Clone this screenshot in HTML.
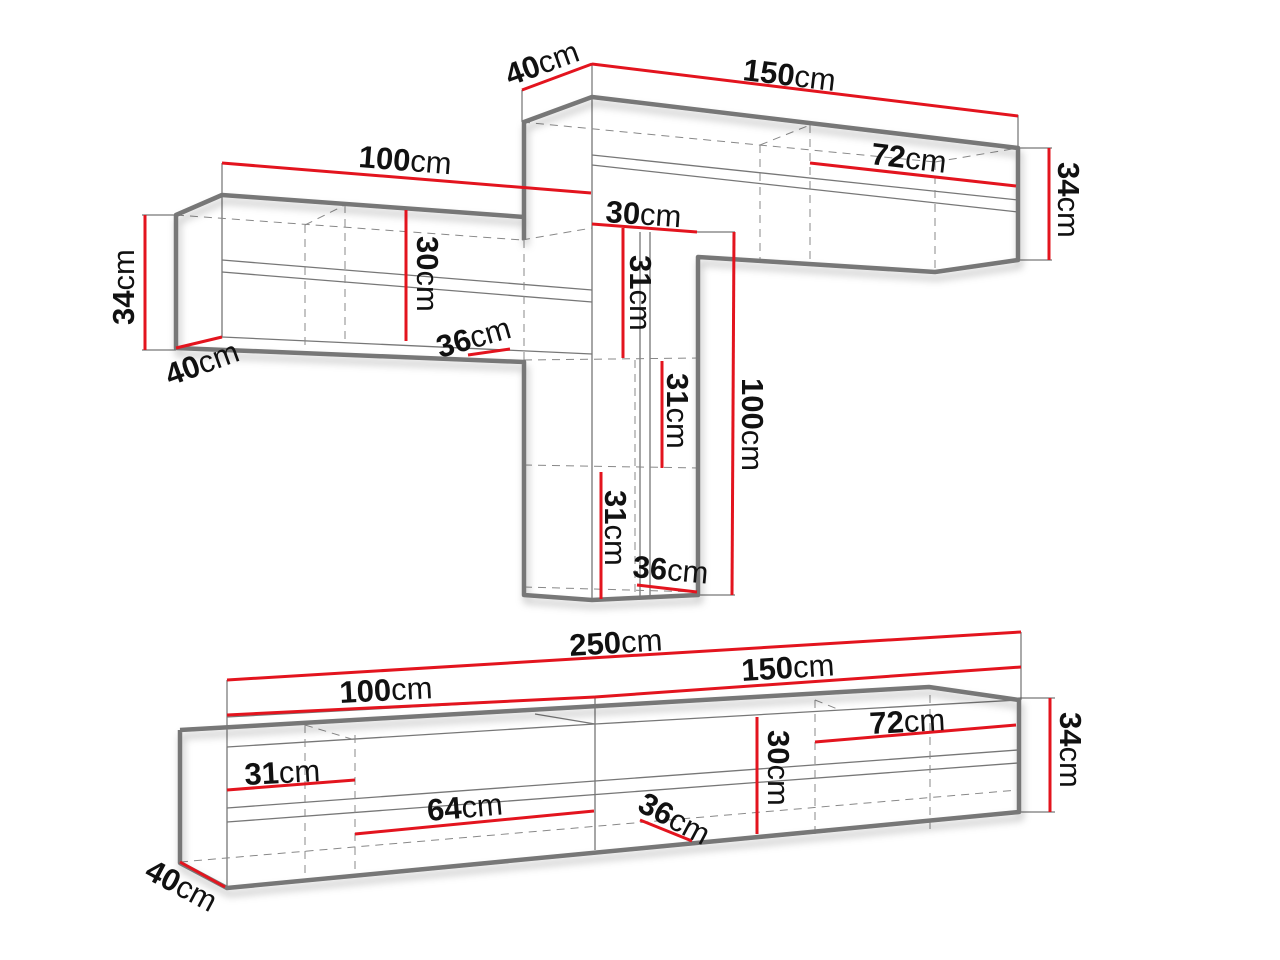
<!DOCTYPE html>
<html><head><meta charset="utf-8"><style>
html,body{margin:0;padding:0;background:#fff;width:1280px;height:960px;overflow:hidden}
svg{display:block}
text{font-family:"Liberation Sans",sans-serif;font-size:31px;fill:#111}
tspan.b{font-weight:bold}
</style></head><body>
<svg width="1280" height="960" viewBox="0 0 1280 960" xmlns="http://www.w3.org/2000/svg">
<defs>
<filter id="sh" x="-5%" y="-5%" width="110%" height="120%"><feDropShadow dx="2" dy="6" stdDeviation="4" flood-color="#000" flood-opacity="0.25"/></filter>
</defs>
<g stroke="#555" stroke-width="1" fill="none">
<line x1="222" y1="163" x2="222" y2="195"/>
<line x1="522" y1="90" x2="522" y2="122"/>
<line x1="592" y1="63" x2="592" y2="97"/>
<line x1="1018" y1="115" x2="1018" y2="148"/>
<line x1="1018" y1="148" x2="1052" y2="148"/>
<line x1="1018" y1="260" x2="1052" y2="260"/>
<line x1="142" y1="215" x2="176" y2="215"/>
<line x1="142" y1="350" x2="176" y2="350"/>
<line x1="698" y1="232" x2="735" y2="232"/>
<line x1="698" y1="595" x2="735" y2="595"/>
<line x1="227" y1="680" x2="227" y2="747"/>
<line x1="1021" y1="632" x2="1021" y2="700"/>
<line x1="1018" y1="698" x2="1055" y2="698"/>
<line x1="1018" y1="812" x2="1055" y2="812"/>
</g>
<g stroke="#777" stroke-width="1.3" fill="none">
<line x1="592" y1="97" x2="592" y2="600"/>
<line x1="592" y1="155" x2="1018" y2="200"/>
<line x1="592" y1="165" x2="1018" y2="212"/>
<line x1="592" y1="224" x2="698" y2="232"/>
<line x1="222" y1="195" x2="222" y2="337"/>
<line x1="222" y1="260" x2="592" y2="290"/>
<line x1="222" y1="272" x2="592" y2="302"/>
<line x1="222" y1="337" x2="592" y2="354"/>
<line x1="640" y1="232" x2="640" y2="598"/>
<line x1="650" y1="232" x2="650" y2="598"/>
<line x1="227" y1="747" x2="227" y2="888"/>
<line x1="227" y1="747" x2="595" y2="724"/>
<line x1="595" y1="724" x2="1018" y2="700"/>
<line x1="227" y1="717" x2="595" y2="697"/>
<line x1="595" y1="697" x2="595" y2="850"/>
<line x1="535" y1="714" x2="595" y2="724"/>
<line x1="227" y1="808" x2="1018" y2="750"/>
<line x1="227" y1="822" x2="1018" y2="763"/>
</g>
<g stroke="#888" stroke-width="1" fill="none" stroke-dasharray="8,6">
<line x1="522" y1="122" x2="935" y2="162"/>
<line x1="935" y1="162" x2="1018" y2="148"/>
<line x1="935" y1="162" x2="935" y2="272"/>
<line x1="760" y1="145" x2="760" y2="262"/>
<line x1="810" y1="125" x2="810" y2="262"/>
<line x1="760" y1="145" x2="810" y2="125"/>
<line x1="176" y1="215" x2="522" y2="240"/>
<line x1="305" y1="225" x2="305" y2="350"/>
<line x1="345" y1="205" x2="345" y2="345"/>
<line x1="305" y1="225" x2="345" y2="205"/>
<line x1="522" y1="240" x2="592" y2="228"/>
<line x1="524" y1="240" x2="524" y2="360"/>
<line x1="524" y1="360" x2="698" y2="358"/>
<line x1="524" y1="465" x2="698" y2="468"/>
<line x1="524" y1="587" x2="698" y2="592"/>
<line x1="635" y1="360" x2="635" y2="595"/>
<line x1="180" y1="862" x2="1018" y2="790"/>
<line x1="305" y1="725" x2="305" y2="880"/>
<line x1="355" y1="735" x2="355" y2="870"/>
<line x1="305" y1="725" x2="355" y2="740"/>
<line x1="815" y1="700" x2="815" y2="840"/>
<line x1="930" y1="695" x2="930" y2="830"/>
<line x1="815" y1="700" x2="840" y2="710"/>
</g>
<g stroke="#777" stroke-width="4.5" fill="none" stroke-linejoin="round" filter="url(#sh)">
<polyline points="524,240 524,122 592,97 1018,148 1018,260 935,272 698,257 698,595 592,600 524,595 524,362 176,348 176,215 222,195 524,217"/>
<polyline points="180,730 929,687 1019,700 1019,812 227,888 180,863 180,730"/>
</g>
<g stroke="#e3141e" stroke-width="3" fill="none">
<line x1="522" y1="90" x2="592" y2="64"/>
<line x1="592" y1="64" x2="1018" y2="116"/>
<line x1="810" y1="163" x2="1016" y2="186"/>
<line x1="1049" y1="148" x2="1049" y2="260"/>
<line x1="222" y1="163" x2="591" y2="193"/>
<line x1="145" y1="215" x2="145" y2="350"/>
<line x1="176" y1="348" x2="222" y2="337"/>
<line x1="406" y1="210" x2="406" y2="341"/>
<line x1="468" y1="355" x2="510" y2="349"/>
<line x1="592" y1="224" x2="697" y2="232"/>
<line x1="623" y1="228" x2="623" y2="358"/>
<line x1="662" y1="361" x2="662" y2="468"/>
<line x1="601" y1="472" x2="601" y2="599"/>
<line x1="637" y1="585" x2="697" y2="592"/>
<line x1="734" y1="232" x2="732" y2="595"/>
<line x1="227" y1="680" x2="1021" y2="632"/>
<line x1="227" y1="715" x2="595" y2="697"/>
<line x1="595" y1="697" x2="1021" y2="667"/>
<line x1="227" y1="790" x2="355" y2="780"/>
<line x1="355" y1="834" x2="594" y2="811"/>
<line x1="640" y1="820" x2="692" y2="841"/>
<line x1="757" y1="717" x2="757" y2="834"/>
<line x1="815" y1="742" x2="1016" y2="725"/>
<line x1="1050" y1="698" x2="1050" y2="812"/>
<line x1="180" y1="862" x2="225" y2="887"/>
</g>
<text transform="translate(510,86) rotate(-20)"><tspan class="b">40</tspan>cm</text>
<text transform="translate(742,80) rotate(6.8)"><tspan class="b">150</tspan>cm</text>
<text transform="translate(870,164) rotate(6.8)"><tspan class="b">72</tspan>cm</text>
<text transform="translate(1058,162) rotate(90)"><tspan class="b">34</tspan>cm</text>
<text transform="translate(358,167) rotate(4.5)"><tspan class="b">100</tspan>cm</text>
<text transform="translate(134,325) rotate(-90)"><tspan class="b">34</tspan>cm</text>
<text transform="translate(170,386) rotate(-20)"><tspan class="b">40</tspan>cm</text>
<text transform="translate(417,236) rotate(90)"><tspan class="b">30</tspan>cm</text>
<text transform="translate(440,358) rotate(-16)"><tspan class="b">36</tspan>cm</text>
<text transform="translate(605,222) rotate(4)"><tspan class="b">30</tspan>cm</text>
<text transform="translate(630,255) rotate(90)"><tspan class="b">31</tspan>cm</text>
<text transform="translate(667,373) rotate(90)"><tspan class="b">31</tspan>cm</text>
<text transform="translate(605,490) rotate(90)"><tspan class="b">31</tspan>cm</text>
<text transform="translate(632,577) rotate(5)"><tspan class="b">36</tspan>cm</text>
<text transform="translate(742,378) rotate(90)"><tspan class="b">100</tspan>cm</text>
<text transform="translate(570,656) rotate(-3.5)"><tspan class="b">250</tspan>cm</text>
<text transform="translate(742,681) rotate(-3.5)"><tspan class="b">150</tspan>cm</text>
<text transform="translate(340,703) rotate(-3)"><tspan class="b">100</tspan>cm</text>
<text transform="translate(870,734) rotate(-3)"><tspan class="b">72</tspan>cm</text>
<text transform="translate(1060,712) rotate(90)"><tspan class="b">34</tspan>cm</text>
<text transform="translate(245,785) rotate(-3)"><tspan class="b">31</tspan>cm</text>
<text transform="translate(428,821) rotate(-5)"><tspan class="b">64</tspan>cm</text>
<text transform="translate(636,810) rotate(28)"><tspan class="b">36</tspan>cm</text>
<text transform="translate(768,730) rotate(90)"><tspan class="b">30</tspan>cm</text>
<text transform="translate(143,877) rotate(28)"><tspan class="b">40</tspan>cm</text>
</svg>
</body></html>
